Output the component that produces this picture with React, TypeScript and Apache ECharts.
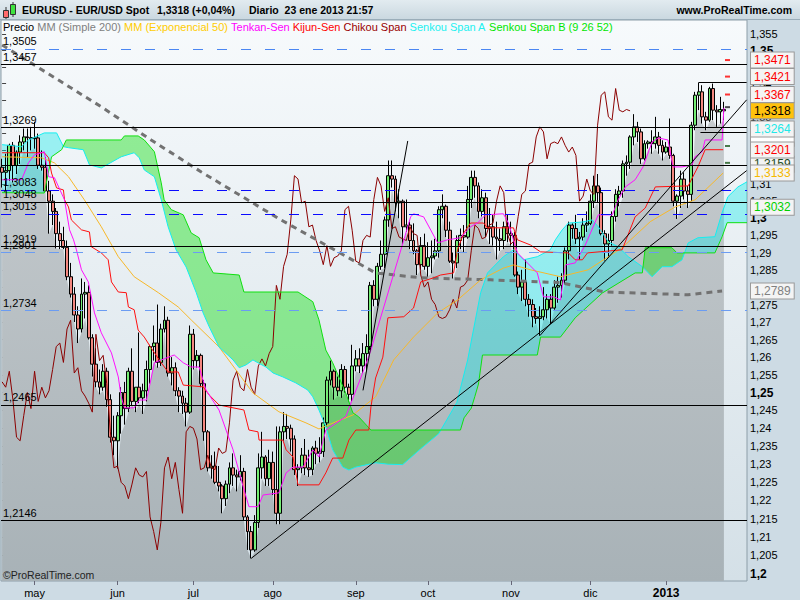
import React, { useEffect, useRef } from 'react';
import * as echarts from 'echarts';

// ---------- DATA ----------
const MONTH_TICKS = [9, 32, 53, 75, 98, 118, 141, 163, 184];
const MONTH_LABELS = ['may', 'jun', 'jul', 'ago', 'sep', 'oct', 'nov', 'dic', '2013'];

const Y_TICKS = [1.2, 1.205, 1.21, 1.215, 1.22, 1.225, 1.23, 1.235, 1.24, 1.245, 1.25, 1.255, 1.26, 1.265,
  1.27, 1.275, 1.28, 1.285, 1.29, 1.295, 1.3, 1.305, 1.31, 1.315, 1.32, 1.325, 1.33, 1.335, 1.34, 1.345, 1.35, 1.355];

// daily bars: [open, high, low, close], index 0 = 18 abr 2012 ... 200 = 23 ene 2013
const CANDLES: number[][] = [
  [1.3150,1.3175,1.3090,1.3135],[1.3135,1.3190,1.3080,1.3140],[1.3140,1.3220,1.3110,1.3215],[1.3215,1.3225,1.3105,1.3155],
  [1.3155,1.3200,1.3130,1.3195],[1.3195,1.3245,1.3160,1.3225],[1.3225,1.3265,1.3200,1.3240],[1.3240,1.3265,1.3180,1.3238],
  [1.3238,1.3270,1.3200,1.3235],[1.3235,1.3285,1.3205,1.3237],[1.3237,1.3250,1.3145,1.3156],[1.3156,1.3200,1.3140,1.3150],
  [1.3150,1.3180,1.3080,1.3080],[1.3080,1.3110,1.2955,1.3050],[1.3050,1.3070,1.2980,1.3020],[1.3020,1.3030,1.2912,1.2955],
  [1.2955,1.2990,1.2910,1.2935],[1.2935,1.2975,1.2910,1.2915],[1.2915,1.2935,1.2820,1.2830],[1.2830,1.2870,1.2770,1.2780],
  [1.2780,1.2800,1.2700,1.2720],[1.2720,1.2745,1.2640,1.2680],[1.2680,1.2825,1.2670,1.2780],[1.2780,1.2815,1.2710,1.2785],
  [1.2785,1.2805,1.2650,1.2655],[1.2655,1.2665,1.2545,1.2580],[1.2580,1.2625,1.2515,1.2530],[1.2530,1.2565,1.2495,1.2515],
  [1.2515,1.2580,1.2505,1.2560],[1.2560,1.2570,1.2460,1.2480],[1.2480,1.2495,1.2360,1.2375],[1.2375,1.2435,1.2325,1.2365],
  [1.2365,1.2445,1.2288,1.2435],[1.2435,1.2515,1.2385,1.2500],[1.2500,1.2530,1.2410,1.2455],[1.2455,1.2570,1.2445,1.2560],
  [1.2560,1.2625,1.2465,1.2475],[1.2475,1.2515,1.2445,1.2515],[1.2515,1.2670,1.2470,1.2485],[1.2485,1.2525,1.2440,1.2505],
  [1.2505,1.2590,1.2475,1.2565],[1.2565,1.2635,1.2525,1.2630],[1.2630,1.2690,1.2590,1.2640],[1.2640,1.2750,1.2570,1.2585],
  [1.2585,1.2695,1.2575,1.2680],[1.2680,1.2745,1.2670,1.2705],[1.2705,1.2715,1.2545,1.2555],[1.2555,1.2600,1.2520,1.2570],
  [1.2570,1.2585,1.2490,1.2505],[1.2505,1.2515,1.2445,1.2490],[1.2490,1.2505,1.2440,1.2470],[1.2470,1.2485,1.2405,1.2445],
  [1.2445,1.2690,1.2440,1.2665],[1.2665,1.2680,1.2565,1.2590],[1.2590,1.2620,1.2570,1.2605],[1.2605,1.2610,1.2515,1.2525],
  [1.2525,1.2535,1.2365,1.2390],[1.2390,1.2395,1.2280,1.2290],[1.2290,1.2325,1.2260,1.2295],[1.2295,1.2335,1.2245,1.2250],
  [1.2250,1.2295,1.2225,1.2240],[1.2240,1.2245,1.2165,1.2205],[1.2205,1.2255,1.2185,1.2245],[1.2245,1.2305,1.2220,1.2290],
  [1.2290,1.2330,1.2240,1.2270],[1.2270,1.2285,1.2225,1.2265],[1.2265,1.2325,1.2255,1.2280],[1.2280,1.2290,1.2145,1.2155],
  [1.2155,1.2160,1.2065,1.2115],[1.2115,1.2130,1.2042,1.2065],[1.2065,1.2160,1.2060,1.2140],[1.2140,1.2330,1.2125,1.2290],
  [1.2290,1.2390,1.2260,1.2320],[1.2320,1.2325,1.2240,1.2260],[1.2260,1.2340,1.2240,1.2305],[1.2305,1.2335,1.2215,1.2230],
  [1.2230,1.2405,1.2135,1.2165],[1.2165,1.2405,1.2135,1.2390],[1.2390,1.2445,1.2365,1.2405],[1.2405,1.2440,1.2370,1.2400],
  [1.2400,1.2410,1.2335,1.2370],[1.2370,1.2380,1.2270,1.2285],[1.2285,1.2300,1.2240,1.2290],[1.2290,1.2345,1.2275,1.2325],
  [1.2325,1.2370,1.2270,1.2290],[1.2290,1.2340,1.2265,1.2285],[1.2285,1.2350,1.2270,1.2345],[1.2345,1.2365,1.2300,1.2330],
  [1.2330,1.2375,1.2305,1.2335],[1.2335,1.2430,1.2320,1.2415],[1.2415,1.2545,1.2405,1.2535],[1.2535,1.2590,1.2520,1.2560],
  [1.2560,1.2565,1.2480,1.2515],[1.2515,1.2545,1.2490,1.2505],[1.2505,1.2580,1.2485,1.2565],[1.2565,1.2575,1.2500,1.2515],
  [1.2515,1.2525,1.2475,1.2495],[1.2495,1.2635,1.2475,1.2575],[1.2575,1.2620,1.2560,1.2595],[1.2595,1.2625,1.2555,1.2575],
  [1.2575,1.2640,1.2555,1.2610],[1.2610,1.2665,1.2560,1.2630],[1.2630,1.2815,1.2620,1.2805],[1.2805,1.2820,1.2745,1.2765],
  [1.2765,1.2870,1.2745,1.2860],[1.2860,1.2935,1.2850,1.2895],[1.2895,1.3005,1.2855,1.2995],[1.2995,1.3170,1.2975,1.3125],
  [1.3125,1.3170,1.3090,1.3115],[1.3115,1.3125,1.3020,1.3045],[1.3045,1.3085,1.3000,1.3050],[1.3050,1.3055,1.2925,1.2975],
  [1.2975,1.3055,1.2960,1.2980],[1.2980,1.2990,1.2910,1.2935],[1.2935,1.2985,1.2895,1.2905],[1.2905,1.2910,1.2835,1.2865],
  [1.2865,1.2945,1.2850,1.2920],[1.2920,1.2955,1.2850,1.2860],[1.2860,1.2930,1.2830,1.2885],[1.2885,1.2935,1.2840,1.2890],
  [1.2890,1.2940,1.2880,1.2905],[1.2905,1.3035,1.2885,1.3025],[1.3025,1.3070,1.3000,1.3035],[1.3035,1.3040,1.2945,1.2965],
  [1.2965,1.2990,1.2870,1.2875],[1.2875,1.2900,1.2825,1.2870],[1.2870,1.2950,1.2855,1.2935],[1.2935,1.2970,1.2910,1.2950],
  [1.2950,1.2980,1.2900,1.2945],[1.2945,1.3095,1.2940,1.3055],[1.3055,1.3140,1.3030,1.3120],[1.3120,1.3140,1.3060,1.3095],
  [1.3095,1.3105,1.3000,1.3020],[1.3020,1.3085,1.3005,1.3060],[1.3060,1.3075,1.2945,1.2970],[1.2970,1.3030,1.2925,1.2975],
  [1.2975,1.3010,1.2920,1.2945],[1.2945,1.2990,1.2880,1.2940],[1.2940,1.2970,1.2905,1.2935],[1.2935,1.2990,1.2910,1.2975],
  [1.2975,1.3010,1.2930,1.2955],[1.2955,1.2990,1.2920,1.2950],[1.2950,1.2960,1.2830,1.2835],[1.2835,1.2845,1.2780,1.2800],
  [1.2800,1.2850,1.2760,1.2815],[1.2815,1.2880,1.2745,1.2765],[1.2765,1.2780,1.2715,1.2750],[1.2750,1.2765,1.2685,1.2715],
  [1.2715,1.2740,1.2695,1.2710],[1.2710,1.2745,1.2661,1.2715],[1.2715,1.2800,1.2705,1.2735],[1.2735,1.2780,1.2710,1.2765],
  [1.2765,1.2780,1.2695,1.2740],[1.2740,1.2820,1.2735,1.2800],[1.2800,1.2830,1.2755,1.2805],[1.2805,1.2840,1.2770,1.2820],
  [1.2820,1.2915,1.2810,1.2905],[1.2905,1.2990,1.2880,1.2980],[1.2980,1.2985,1.2940,1.2970],[1.2970,1.3010,1.2925,1.2940],
  [1.2940,1.2960,1.2880,1.2945],[1.2945,1.3000,1.2935,1.2980],[1.2980,1.3020,1.2960,1.2985],[1.2985,1.3070,1.2980,1.3050],
  [1.3050,1.3125,1.3030,1.3095],[1.3095,1.3130,1.3045,1.3075],[1.3075,1.3090,1.2950,1.2955],[1.2955,1.2965,1.2877,1.2925],
  [1.2925,1.2955,1.2885,1.2935],[1.2935,1.3020,1.2920,1.3005],[1.3005,1.3085,1.2990,1.3070],[1.3070,1.3095,1.3035,1.3080],
  [1.3080,1.3170,1.3060,1.3160],[1.3160,1.3185,1.3125,1.3165],[1.3165,1.3245,1.3145,1.3240],[1.3240,1.3308,1.3215,1.3270],
  [1.3270,1.3285,1.3225,1.3255],[1.3255,1.3265,1.3160,1.3175],[1.3175,1.3230,1.3170,1.3220],[1.3220,1.3230,1.3205,1.3225],
  [1.3225,1.3260,1.3190,1.3220],[1.3220,1.3300,1.3205,1.3240],[1.3240,1.3255,1.3190,1.3215],[1.3215,1.3230,1.3170,1.3195],
  [1.3195,1.3225,1.3190,1.3210],[1.3210,1.3295,1.3175,1.3185],[1.3185,1.3190,1.3035,1.3050],[1.3050,1.3070,1.2998,1.3065],
  [1.3065,1.3140,1.3030,1.3115],[1.3115,1.3135,1.3055,1.3080],[1.3080,1.3095,1.3030,1.3070],[1.3070,1.3285,1.3050,1.3275],
  [1.3275,1.3375,1.3260,1.3365],[1.3365,1.3403,1.3320,1.3375],[1.3375,1.3395,1.3280,1.3300],[1.3300,1.3315,1.3260,1.3290],
  [1.3290,1.3390,1.3285,1.3385],[1.3385,1.3400,1.3290,1.3320],[1.3320,1.3335,1.3270,1.3315],[1.3315,1.3360,1.3280,1.3322],
  [1.3322,1.3345,1.3290,1.3318],
];

// indicator lines: [bar index, value]
const MM200: number[][] = [[0,1.3517],[27.5,1.3330],[41.3,1.3231],[55.2,1.3136],[77.3,1.2995],[103.5,1.2841],[116,1.2827],
  [135.3,1.2821],[154.7,1.2813],[167.1,1.2786],[190.1,1.2778],[199.5,1.2789]];
const EMA50: number[][] = [[0,1.3181],[10.9,1.3178],[14.5,1.3163],[18.4,1.3122],[22.8,1.3054],[27.5,1.2975],[32.2,1.2888],
  [36.6,1.2830],[43.3,1.2784],[48.8,1.2743],[52.4,1.2706],[60.1,1.2629],[69.5,1.2499],[76.7,1.2446],[84.2,1.2415],
  [87.8,1.2398],[92.5,1.2418],[97.2,1.2437],[103.5,1.2488],[108.5,1.2592],[114,1.2657],[120.7,1.2726],[126.2,1.2763],
  [132.6,1.2821],[138.9,1.2855],[141.7,1.2864],[146.4,1.2850],[154.7,1.2830],[162.4,1.2850],[171.8,1.2914],[179.6,1.2990],
  [186.5,1.3033],[192,1.3054],[199.8,1.3133]];
const TENKAN: number[][] = [[0,1.3113],[5.4,1.3113],[7.3,1.3163],[9,1.3187],[11.7,1.3196],[12.9,1.3122],[14.5,1.3119],
  [17.3,1.3054],[18.7,1.2966],[19.8,1.2937],[20.6,1.2908],[22,1.2850],[23.9,1.2815],[25.6,1.2726],[27.5,1.2669],
  [30.3,1.2612],[32.2,1.2544],[33,1.2488],[33.9,1.2457],[36.6,1.2457],[38,1.2479],[40,1.2479],[40.8,1.2516],[42.2,1.2584],
  [44.1,1.2592],[47.7,1.2606],[50.2,1.2584],[52.4,1.2572],[54.6,1.2572],[56.5,1.2507],[60.1,1.2451],[64,1.2340],
  [66.8,1.2238],[68.4,1.2183],[70.9,1.2183],[72.3,1.2215],[76.7,1.2221],[78.7,1.2276],[80.6,1.2292],[83.4,1.2292],
  [86.1,1.2340],[87.8,1.2320],[89.7,1.2395],[95.2,1.2432],[99.9,1.2555],[102.2,1.2620],[110.5,1.2908],[113.2,1.3004],
  [114,1.3013],[116.8,1.3004],[120.7,1.2928],[123.4,1.2937],[127,1.2943],[129.8,1.2975],[131.7,1.2986],[134,1.3010],
  [138.9,1.3013],[140.3,1.2986],[141.7,1.2937],[142.8,1.2899],[148.3,1.2841],[150,1.2772],[152.8,1.2772],[154.7,1.2763],
  [156.1,1.2864],[158.8,1.2870],[161.6,1.2922],[165.2,1.3010],[169.1,1.3010],[170.7,1.3054],[172.7,1.3092],[175.4,1.3113],
  [177.6,1.3151],[180.1,1.3225],[181.8,1.3237],[184.5,1.3231],[185.9,1.3151],[188.4,1.3151],[191.2,1.3157],[192,1.3181],
  [194,1.3196],[194.8,1.3231],[199.5,1.3231],[200,1.3327]];
const KIJUN: number[][] = [[0,1.3193],[11.7,1.3193],[12.9,1.3178],[13.7,1.3133],[15.1,1.3089],[17,1.3083],[17.3,1.3054],
  [18.4,1.3033],[19.2,1.2995],[22,1.2966],[24.2,1.2960],[24.7,1.2917],[27.5,1.2899],[29.4,1.2879],[30.3,1.2815],
  [32.2,1.2786],[34.4,1.2784],[35,1.2743],[36.6,1.2735],[37.7,1.2677],[39.4,1.2657],[41.3,1.2626],[44.1,1.2584],
  [46,1.2558],[48.8,1.2558],[50.2,1.2521],[52.4,1.2519],[55.7,1.2516],[57.4,1.2493],[60.1,1.2465],[67,1.2451],
  [68.4,1.2395],[70.9,1.2390],[71.2,1.2367],[77.8,1.2367],[78.7,1.2340],[80.6,1.2320],[82,1.2243],[87.8,1.2243],
  [89.7,1.2276],[91.6,1.2317],[94.4,1.2317],[96.1,1.2367],[98,1.2395],[101.6,1.2395],[102.2,1.2460],[103.5,1.2541],
  [105.5,1.2600],[106.9,1.2712],[111.3,1.2715],[114,1.2740],[116,1.2815],[119.6,1.2827],[121.5,1.2835],[125.1,1.2841],
  [126.2,1.2908],[127.9,1.2957],[129.8,1.2986],[133.4,1.2986],[134.5,1.2972],[141.7,1.2972],[142.8,1.2937],[146.4,1.2922],
  [149.2,1.2902],[156.9,1.2899],[158.8,1.2879],[160.8,1.2879],[162.2,1.2899],[171.8,1.2908],[175.4,1.3004],[178.2,1.3030],
  [181,1.3092],[190.1,1.3095],[192.8,1.3151],[194.8,1.3202],[199.8,1.3202]];
const SENKOU_A: number[][] = [[0,1.3217],[5.4,1.3211],[7.3,1.3231],[11.7,1.3252],[15.1,1.3252],[17,1.3211],[18.4,1.3208],
  [22.5,1.3202],[24.2,1.3157],[27.5,1.3148],[33,1.3181],[36.6,1.3193],[38,1.3178],[39.4,1.3142],[42.2,1.3122],[44.1,1.3054],
  [46,1.2975],[48.2,1.2908],[51,1.2858],[53.8,1.2784],[55.7,1.2726],[57.4,1.2686],[60.1,1.2629],[64,1.2592],[65.7,1.2570],
  [67.6,1.2578],[69.5,1.2592],[70.9,1.2584],[73.1,1.2572],[75.1,1.2555],[77.8,1.2544],[81.4,1.2527],[84.7,1.2507],
  [86.1,1.2488],[87.8,1.2451],[89.7,1.2404],[91.6,1.2340],[94.4,1.2292],[96.1,1.2284],[98,1.2292],[103.5,1.2304],
  [107,1.2300],[111,1.2299],[116,1.2343],[121,1.2385],[126,1.2472],[129,1.2592],[132.6,1.2784],[134.5,1.2841],
  [138.9,1.2888],[141.7,1.2908],[144.5,1.2879],[148.3,1.2888],[151.9,1.2908],[153.3,1.2937],[155.2,1.2966],[156.9,1.2986],
  [160.8,1.2989],[163.5,1.2995],[165.2,1.2975],[168,1.2931],[170.7,1.2917],[173.5,1.2888],[177.4,1.2859],[180.1,1.2830],
  [182.9,1.2859],[185.6,1.2859],[188.4,1.2879],[190.1,1.2928],[192.8,1.2943],[197.5,1.2946],[199.5,1.3016],[201.1,1.3063],
  [203.9,1.3092],[206.4,1.3107]];
const SENKOU_B: number[][] = [[0,1.3075],[11.7,1.3074],[13.7,1.3181],[16.5,1.3202],[17.8,1.3231],[33,1.3231],[33.9,1.3243],
  [37.7,1.3243],[39.4,1.3231],[42.2,1.3196],[44.1,1.3104],[44.9,1.3054],[46.9,1.3025],[50.2,1.3010],[52.4,1.2957],
  [54.6,1.2943],[56.5,1.2879],[58.5,1.2841],[65.7,1.2835],[67,1.2786],[82,1.2786],[86.1,1.2758],[87.8,1.2706],[89.7,1.2620],
  [91.6,1.2584],[93.3,1.2544],[95.2,1.2499],[97.2,1.2443],[98.8,1.2432],[102.2,1.2395],[127,1.2395],[128,1.2429],
  [130,1.2456],[131,1.2489],[132,1.2524],[133.1,1.2606],[148.3,1.2606],[149.2,1.2657],[154.7,1.2657],[158.8,1.2712],
  [166.3,1.2783],[175.4,1.2841],[177.4,1.2841],[178.2,1.2914],[185.6,1.2914],[187,1.2899],[197.5,1.2899],[199.5,1.2946],
  [200.9,1.2987],[206.4,1.2987]];

// horizontal levels drawn on the chart
const LEVEL_VALUES = [1.3505, 1.3457, 1.3269, 1.3155, 1.3083, 1.3048, 1.3013, 1.2919, 1.2901, 1.2734, 1.2465, 1.2146];
const LEVEL_LABELS = ['1,3505', '1,3457', '1,3269', '', '1,3083', '1,3048', '1,3013', '1,2919', '1,2901', '1,2734', '1,2465', '1,2146'];
// trend lines: [[idx, value], [idx, value]]
const TREND_LINES: number[][][] = [
  [[69, 1.2042], [206.3, 1.3140]],
  [[149, 1.2661], [206.3, 1.3351]],
  [[100, 1.2506], [112.4, 1.3228]],
  [[193, 1.3403], [206.3, 1.3403]],
  [[193.5, 1.3253], [206.3, 1.3253]],
];
// value boxes on the price scale
const BOX_VALUES = [1.3236, 1.3159, 1.3471, 1.3421, 1.3367, 1.3318, 1.3264, 1.3201, 1.3133, 1.3032, 1.2789];
const BOX_LABELS = ['1,3236', '1,3159', '1,3471', '1,3421', '1,3367', '1,3318', '1,3264', '1,3201', '1,3133', '1,3032', '1,2789'];
// small level dashes after the last bar
const PIVOT_VALUES = [1.3471, 1.3421, 1.3367, 1.3329, 1.3213, 1.3163];

// ---------- STYLES ----------
const FONT = '"Liberation Sans", Arial, sans-serif';
const levelStyles = [
  { color: '#4a86f2', type: [10, 14] }, { color: '#000', type: 'solid' }, { color: '#000', type: 'solid' },
  { color: '#000', type: 'solid' }, { color: '#0a0aff', type: [10, 14] }, { color: '#000', type: 'solid' },
  { color: '#0a0aff', type: [10, 14] }, { color: '#000', type: 'solid' }, { color: '#6b9cf2', type: [10, 14] },
  { color: '#6b9cf2', type: [10, 14] }, { color: '#000', type: 'solid' }, { color: '#000', type: 'solid' },
];
const boxStyles = [
  { color: '#ffffff', bg: '#ffffff' }, { color: '#1f4d1f', bg: '#f4f4f4' }, { color: '#ff0000', bg: '#f4f4f4' },
  { color: '#ff0000', bg: '#f4f4f4' }, { color: '#ff0000', bg: '#f4f4f4' }, { color: '#000000', bg: '#ffc20e' },
  { color: '#22e8e8', bg: '#f4f4f4' }, { color: '#ff0000', bg: '#f4f4f4' }, { color: '#f5b800', bg: '#f4f4f4' },
  { color: '#00d000', bg: '#f4f4f4' }, { color: '#808080', bg: '#f4f4f4' },
];
const pivotColors = ['#ff0000', '#ff0000', '#ff0000', '#222222', '#1d5b1d', '#1d5b1d'];

const lineSeries = (name: string, data: number[][], color: string, extra: any = {}) => ({
  name, type: 'line', data, showSymbol: false, symbol: 'none', z: 4, silent: true,
  lineStyle: { color, width: 1, ...extra },
});

function interpY(pts: number[][], x: number) {
  if (x <= pts[0][0]) return pts[0][1];
  for (let k = 1; k < pts.length; k++) {
    if (x <= pts[k][0]) {
      const [x0, y0] = pts[k - 1];
      const [x1, y1] = pts[k];
      return x1 === x0 ? y1 : y0 + (y1 - y0) * (x - x0) / (x1 - x0);
    }
  }
  return pts[pts.length - 1][1];
}

function buildOption() {
  const closes = CANDLES.map((c) => c[3]);
  const chikou = closes.slice(26).map((v, i) => [i, v]);
  const lows = CANDLES.map((c, i) => [i, c[2]]);

  const fmtY = (v: number) => {
    const r = Math.round(v * 1000) / 1000;
    const s = String(r).replace('.', ',');
    return Math.abs(r * 20 - Math.round(r * 20)) < 1e-6 ? `{b|${s}}` : s;
  };

  const markData: any[] = [];
  LEVEL_VALUES.forEach((v, i) => {
    markData.push({
      yAxis: v,
      lineStyle: { color: levelStyles[i].color, width: 1, type: levelStyles[i].type, opacity: 1 },
      label: {
        show: LEVEL_LABELS[i] !== '', position: 'insideStartTop', formatter: LEVEL_LABELS[i],
        color: '#000', fontSize: 11, fontFamily: FONT, distance: 2,
      },
    });
  });
  TREND_LINES.forEach((seg) => {
    markData.push([
      { coord: seg[0], lineStyle: { color: '#000', width: 1, type: 'solid' }, label: { show: false } },
      { coord: seg[1] },
    ]);
  });
  BOX_VALUES.forEach((v, i) => {
    markData.push({
      yAxis: v,
      lineStyle: { color: 'rgba(0,0,0,0)', width: 1, opacity: 1 },
      label: {
        show: true, position: 'end', formatter: BOX_LABELS[i], distance: 4,
        color: boxStyles[i].color, backgroundColor: boxStyles[i].bg,
        borderColor: '#9a9a9a', borderWidth: 1, padding: [2, 3, 1, 3],
        fontSize: 12, fontFamily: FONT, opacity: 1,
      },
    });
  });

  const cloudRender = (params: any, api: any) => {
    const pa = SENKOU_A.map((p) => api.coord(p));
    const pb = SENKOU_B.map((p) => api.coord(p));
    const xs = Math.max(pa[0][0], pb[0][0]);
    const xe = Math.min(pa[pa.length - 1][0], pb[pb.length - 1][0]);
    const children: any[] = [];
    let run: any = null;
    let prev: any = null;
    const flush = () => {
      if (run && run.a.length > 1) {
        const pts = run.a.concat(run.b.slice().reverse());
        children.push({
          type: 'polygon', shape: { points: pts },
          style: { fill: run.up ? 'rgba(0,232,232,0.36)' : 'rgba(0,222,0,0.40)' },
        });
      }
    };
    for (let x = xs; ; x += 1) {
      const xx = Math.min(x, xe);
      const ya = interpY(pa, xx);
      const yb = interpY(pb, xx);
      const up = ya <= yb;
      if (!run || run.up !== up) {
        flush();
        run = { up, a: [], b: [] };
        if (prev) { run.a.push(prev.a); run.b.push(prev.b); }
      }
      run.a.push([xx, ya]);
      run.b.push([xx, yb]);
      prev = { a: [xx, ya], b: [xx, yb] };
      if (xx >= xe) break;
    }
    flush();
    return { type: 'group', children };
  };

  return {
    animation: false,
    backgroundColor: '#cddbe4',
    textStyle: { fontFamily: FONT },
    grid: {
      left: 1, right: 53, top: 20, bottom: 19, show: true,
      borderColor: '#8d9ea8', borderWidth: 1,
      backgroundColor: {
        type: 'linear', x: 0, y: 0, x2: 0, y2: 1,
        colorStops: [{ offset: 0, color: '#f7fafc' }, { offset: 1, color: '#d4e0e7' }],
      },
    },
    xAxis: {
      type: 'value', min: -0.3, max: 206.4,
      axisLine: { show: false }, splitLine: { show: false },
      axisTick: { show: true, customValues: MONTH_TICKS, length: 4, lineStyle: { color: '#667' } },
      axisLabel: {
        customValues: MONTH_TICKS, margin: 6, fontSize: 11, color: '#000', fontFamily: FONT,
        formatter: (v: number) => {
          const i = MONTH_TICKS.indexOf(Math.round(v));
          const s = i >= 0 ? MONTH_LABELS[i] : '';
          return s === '2013' ? `{b|${s}}` : s;
        },
        rich: { b: { fontWeight: 'bold', fontSize: 12, color: '#000', fontFamily: FONT } },
      },
    },
    yAxis: {
      type: 'log', logBase: 10, position: 'right', min: 1.1981, max: 1.3593,
      axisLine: { show: false }, splitLine: { show: false },
      axisTick: { show: true, customValues: Y_TICKS, length: 4, lineStyle: { color: '#444' } },
      axisLabel: {
        customValues: Y_TICKS, margin: 3, fontSize: 11, color: '#000', fontFamily: FONT,
        formatter: fmtY,
        rich: { b: { fontWeight: 'bold', fontSize: 12, color: '#000', fontFamily: FONT } },
      },
    },
    series: [
      {
        name: 'area', type: 'line', data: lows, showSymbol: false, symbol: 'none', z: 1, silent: true,
        lineStyle: { width: 0, opacity: 0 },
        areaStyle: {
          origin: 'start', opacity: 1,
          color: { type: 'linear', x: 0, y: 0, x2: 0, y2: 1,
            colorStops: [{ offset: 0, color: '#c6cbce' }, { offset: 1, color: '#a8b2b7' }] },
        },
      },
      { name: 'cloud', type: 'custom', data: [[0, 1.3]], renderItem: cloudRender, clip: true, z: 2, silent: true },
      lineSeries('Chikou Span', chikou, '#8b0000'),
      {
        name: 'Precio', type: 'candlestick', z: 3, silent: true,
        data: CANDLES.map((c, i) => [i, c[0], c[3], c[2], c[1]]),
        encode: { x: 0, y: [1, 2, 3, 4] },
        barWidth: 3.4,
        itemStyle: { color: '#74ee74', color0: '#f4877f', borderColor: '#000', borderColor0: '#000', borderWidth: 1 },
      },
      lineSeries('MM (Simple 200)', MM200, '#727272', { width: 3, type: [6, 5] }),
      lineSeries('MM (Exponencial 50)', EMA50, '#f7b82a'),
      lineSeries('Senkou Span A', SENKOU_A, '#14eef0'),
      lineSeries('Senkou Span B', SENKOU_B, '#10e010'),
      lineSeries('Kijun-Sen', KIJUN, '#ff1010'),
      lineSeries('Tenkan-Sen', TENKAN, '#ff10ff'),
      {
        name: 'pivots', type: 'scatter', z: 4, silent: true, symbol: 'rect', symbolSize: [5, 2],
        data: PIVOT_VALUES.map((v, i) => ({ value: [201, v], itemStyle: { color: pivotColors[i] } })),
      },
      {
        name: 'marks', type: 'line', data: [[0, 1.25]], showSymbol: false, symbol: 'none', clip: false, silent: true,
        lineStyle: { opacity: 0 }, z: 5,
        markLine: { silent: true, precision: 4, symbol: ['none', 'none'], animation: false, label: { show: false }, data: markData },
      },
    ],
    graphic: [
      {
        type: 'rect', shape: { x: 0, y: 0, width: 800, height: 20 }, z: 100, silent: true,
        style: { fill: { type: 'linear', x: 0, y: 0, x2: 0, y2: 1,
          colorStops: [{ offset: 0, color: '#e2ebf0' }, { offset: 1, color: '#c9d7df' }] } },
      },
      { type: 'line', shape: { x1: 0, y1: 19.5, x2: 800, y2: 19.5 }, z: 100, style: { stroke: '#9aadb9', lineWidth: 1 } },
      { type: 'line', shape: { x1: 6, y1: 7, x2: 6, y2: 19 }, z: 101, style: { stroke: '#333', lineWidth: 1 } },
      { type: 'rect', shape: { x: 3.5, y: 10.5, width: 5, height: 7 }, z: 102, style: { fill: '#ff6b6b', stroke: '#333', lineWidth: 1 } },
      { type: 'line', shape: { x1: 13, y1: 2, x2: 13, y2: 17 }, z: 101, style: { stroke: '#333', lineWidth: 1 } },
      { type: 'rect', shape: { x: 10.5, y: 4.5, width: 5, height: 10 }, z: 102, style: { fill: '#3fe33f', stroke: '#333', lineWidth: 1 } },
      { type: 'text', x: 22, y: 10, z: 102, style: { text: 'EURUSD - EUR/USD Spot', fontFamily: FONT, fontWeight: 'bold', fontSize: 10.5, fill: '#000', verticalAlign: 'middle' } },
      { type: 'text', x: 157, y: 10, z: 102, style: { text: '1,3318 (+0,04%)', fontFamily: FONT, fontWeight: 'bold', fontSize: 10.5, fill: '#000', verticalAlign: 'middle' } },
      { type: 'text', x: 249, y: 10, z: 102, style: { text: 'Diario  23 ene 2013 21:57', fontFamily: FONT, fontWeight: 'bold', fontSize: 10.5, fill: '#000', verticalAlign: 'middle' } },
      { type: 'text', x: 792, y: 10, z: 102, style: { text: 'www.ProRealTime.com', fontFamily: FONT, fontWeight: 'bold', fontSize: 10.5, fill: '#000', align: 'right', verticalAlign: 'middle' } },
      {
        type: 'text', x: 3, y: 27, z: 102, silent: true,
        style: {
          text: '{k|Precio} {g|MM (Simple 200)} {o|MM (Exponencial 50)} {m|Tenkan-Sen} {r|Kijun-Sen} {d|Chikou Span} {c|Senkou Span A} {n|Senkou Span B (9 26 52)}',
          fontFamily: FONT, fontSize: 11, fill: '#000', verticalAlign: 'middle',
          rich: {
            k: { fill: '#000000', fontSize: 11, fontFamily: FONT },
            g: { fill: '#808080', fontSize: 11, fontFamily: FONT },
            o: { fill: '#ffcc00', fontSize: 11, fontFamily: FONT },
            m: { fill: '#ff00ff', fontSize: 11, fontFamily: FONT },
            r: { fill: '#ff0000', fontSize: 11, fontFamily: FONT },
            d: { fill: '#990000', fontSize: 11, fontFamily: FONT },
            c: { fill: '#22f0f0', fontSize: 11, fontFamily: FONT },
            n: { fill: '#00e600', fontSize: 11, fontFamily: FONT },
          },
        },
      },
      { type: 'text', x: 3, y: 575, z: 102, silent: true, style: { text: '©ProRealTime.com', fontFamily: FONT, fontSize: 10.5, fill: '#222', verticalAlign: 'middle' } },
    ],
  };
}

export default function App() {
  const ref = useRef<HTMLDivElement>(null);
  useEffect(() => {
    const chart = echarts.init(ref.current as HTMLDivElement, null, { renderer: 'svg' });
    chart.setOption(buildOption() as any);
    return () => chart.dispose();
  }, []);
  return <div ref={ref} style={{ position: 'fixed', left: 0, top: 0, width: 800, height: 600 }} />;
}
